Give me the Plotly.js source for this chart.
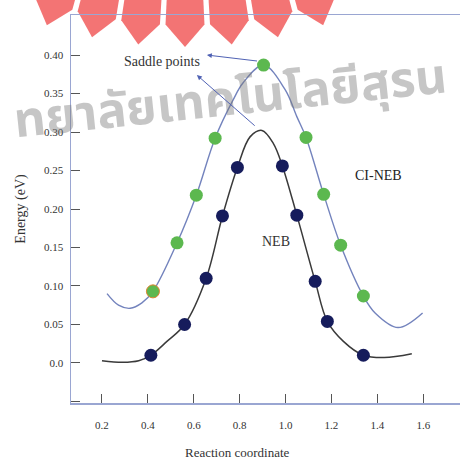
<!DOCTYPE html>
<html>
<head>
<meta charset="utf-8">
<script src="https://cdn.plot.ly/plotly-3.0.1.min.js"></script>
<style>
  html, body { margin: 0; padding: 0; background: #ffffff; }
  #chart { width: 460px; height: 459px; }
</style>
</head>
<body>
<div id="chart"></div>
<script>
// Minimum energy path: NEB images vs climbing-image NEB images
const nebX = [0.413, 0.560, 0.654, 0.725, 0.790, 0.986, 1.049, 1.129, 1.182, 1.339];
const nebY = [0.010, 0.050, 0.110, 0.191, 0.254, 0.256, 0.192, 0.106, 0.054, 0.010];

const ciX = [0.422, 0.527, 0.611, 0.693, 0.904, 1.089, 1.166, 1.240, 1.339];
const ciY = [0.093, 0.156, 0.218, 0.292, 0.387, 0.293, 0.219, 0.153, 0.087];

// Interpolated energy profiles drawn through the images
const nebCurveX = [0.20, 0.29, 0.36, 0.413, 0.483, 0.560, 0.654, 0.725, 0.790, 0.846, 0.897, 0.947, 0.986, 1.049, 1.129, 1.182, 1.252, 1.339, 1.43, 1.55];
const nebCurveY = [0.003, 0.001, 0.003, 0.010, 0.028, 0.050, 0.110, 0.191, 0.254, 0.294, 0.302, 0.285, 0.256, 0.192, 0.106, 0.054, 0.028, 0.010, 0.007, 0.012];

const ciCurveX = [0.222, 0.272, 0.323, 0.374, 0.422, 0.527, 0.611, 0.693, 0.772, 0.815, 0.904, 0.998, 1.049, 1.089, 1.166, 1.240, 1.339, 1.39, 1.49, 1.597];
const ciCurveY = [0.090, 0.075, 0.071, 0.078, 0.093, 0.156, 0.218, 0.292, 0.342, 0.364, 0.387, 0.355, 0.320, 0.293, 0.219, 0.153, 0.087, 0.065, 0.046, 0.065];

const yTickVals = [-0.05, 0.0, 0.05, 0.10, 0.15, 0.20, 0.25, 0.30, 0.35, 0.40];
const yTickText = ['', '0.0', '0.05', '0.10', '0.15', '0.20', '0.25', '0.30', '0.35', '0.40'];

const serif = 'Liberation Serif, Times New Roman, serif';
const axisBlue = '#9aa6d2';

// Emblem watermark along the top edge (pixel geometry -> paper units)
const plotL = 71, plotT = 15, plotW = 389, plotH = 388;
const toPaper = (px, py) => [(px - plotL) / plotW, (plotT + plotH - py) / plotH];
function emblemShapes() {
  const cx = 185, cy = -400, rTop = 370, rEdge = 425, rTip = 447;
  const shapes = [];
  const step = 6, gap = 0.75;
  for (let c = 72; c <= 108; c += step) {
    const a0 = (c - step / 2 + gap / 2) * Math.PI / 180;
    const a1 = (c + step / 2 - gap / 2) * Math.PI / 180;
    const am = c * Math.PI / 180;
    const pts = [
      [cx + rTop * Math.cos(a0), cy + rTop * Math.sin(a0)],
      [cx + rTop * Math.cos(a1), cy + rTop * Math.sin(a1)],
      [cx + rEdge * Math.cos(a1), cy + rEdge * Math.sin(a1)],
      [cx + rTip * Math.cos(am), cy + rTip * Math.sin(am)],
      [cx + rEdge * Math.cos(a0), cy + rEdge * Math.sin(a0)]
    ].map(p => toPaper(p[0], p[1]));
    const path = 'M' + pts.map(p => p[0].toFixed(4) + ',' + p[1].toFixed(4)).join('L') + 'Z';
    shapes.push({
      type: 'path', xref: 'paper', yref: 'paper', path: path,
      fillcolor: 'rgba(238,62,62,0.72)', line: { width: 0 }, layer: 'below'
    });
  }
  return shapes;
}

const traces = [
  {
    x: ciCurveX, y: ciCurveY, mode: 'lines', type: 'scatter',
    line: { color: '#7383bd', width: 1.4, shape: 'spline', smoothing: 1 },
    hoverinfo: 'skip', showlegend: false
  },
  {
    x: nebCurveX, y: nebCurveY, mode: 'lines', type: 'scatter',
    line: { color: '#3a3a3a', width: 1.5, shape: 'spline', smoothing: 1 },
    hoverinfo: 'skip', showlegend: false
  },
  {
    x: ciX, y: ciY, mode: 'markers', type: 'scatter', name: 'CI-NEB',
    marker: {
      color: '#5cb84f', size: 13,
      line: { width: 1, color: ciX.map((_, i) => i === 0 ? '#e0822e' : 'rgba(0,0,0,0)') }
    },
    showlegend: false
  },
  {
    x: nebX, y: nebY, mode: 'markers', type: 'scatter', name: 'NEB',
    marker: { color: '#161c5c', size: 13 },
    showlegend: false
  }
];

const layout = {
  width: 460, height: 459,
  margin: { l: plotL, r: 0, t: plotT, b: 459 - plotT - plotH },
  paper_bgcolor: '#ffffff', plot_bgcolor: '#ffffff',
  font: { family: serif, color: '#333333', size: 11 },
  xaxis: {
    range: [0.065, 1.76], dtick: 0.2, tick0: 0.2, tickformat: '.1f',
    showgrid: false, zeroline: false,
    showline: true, linecolor: axisBlue, linewidth: 1.5, mirror: true,
    ticks: 'inside', ticklen: 9, tickcolor: '#555555', tickwidth: 1,
    ticklabelstandoff: 11,
    tickfont: { family: serif, size: 11, color: '#333333' }
  },
  yaxis: {
    range: [-0.052, 0.452],
    tickvals: yTickVals, ticktext: yTickText,
    showgrid: false, zeroline: false,
    showline: true, linecolor: axisBlue, linewidth: 1.5,
    ticks: 'inside', ticklen: 9, tickcolor: '#555555', tickwidth: 1,
    ticklabelstandoff: 4,
    tickfont: { family: serif, size: 11, color: '#333333' },
    title: { text: 'Energy (eV)', font: { family: serif, size: 14, color: '#333333' }, standoff: 15 }
  },
  shapes: emblemShapes(),
  annotations: [
    {
      text: 'ทยาลัยเทคโนโลยีสุรน', xref: 'paper', yref: 'paper',
      x: toPaper(230, 0)[0], y: toPaper(0, 100)[1], xanchor: 'center', yanchor: 'middle',
      textangle: -6, showarrow: false,
      font: { family: 'Noto Sans Thai, Noto Sans, DejaVu Sans, sans-serif', size: 49, color: 'rgba(120,120,120,0.42)', weight: 'bold' }
    },
    {
      text: 'Reaction coordinate', xref: 'paper', yref: 'paper',
      x: toPaper(237, 0)[0], y: toPaper(0, 452)[1], xanchor: 'center', yanchor: 'middle',
      showarrow: false, font: { family: serif, size: 13, color: '#333333' }
    },
    {
      text: 'Saddle points', xref: 'x', yref: 'y', x: 0.4625, y: 0.392,
      showarrow: false, font: { family: serif, size: 14, color: '#333333' }
    },
    {
      text: 'CI-NEB', xref: 'x', yref: 'y', x: 1.404, y: 0.243,
      showarrow: false, font: { family: serif, size: 14, color: '#222222' }
    },
    {
      text: 'NEB', xref: 'x', yref: 'y', x: 0.959, y: 0.1575,
      showarrow: false, font: { family: serif, size: 14, color: '#333333' }
    },
    {
      text: '', xref: 'x', yref: 'y', x: 0.657, y: 0.400,
      axref: 'x', ayref: 'y', ax: 0.882, ay: 0.392,
      showarrow: true, arrowhead: 2, arrowsize: 1, arrowwidth: 1, arrowcolor: '#5062b4'
    },
    {
      text: '', xref: 'x', yref: 'y', x: 0.6136, y: 0.374,
      axref: 'x', ayref: 'y', ax: 0.872, ay: 0.3065,
      showarrow: true, arrowhead: 2, arrowsize: 1, arrowwidth: 1, arrowcolor: '#5062b4'
    }
  ]
};

Plotly.newPlot('chart', traces, layout, { displayModeBar: false, staticPlot: true });
</script>
</body>
</html>
